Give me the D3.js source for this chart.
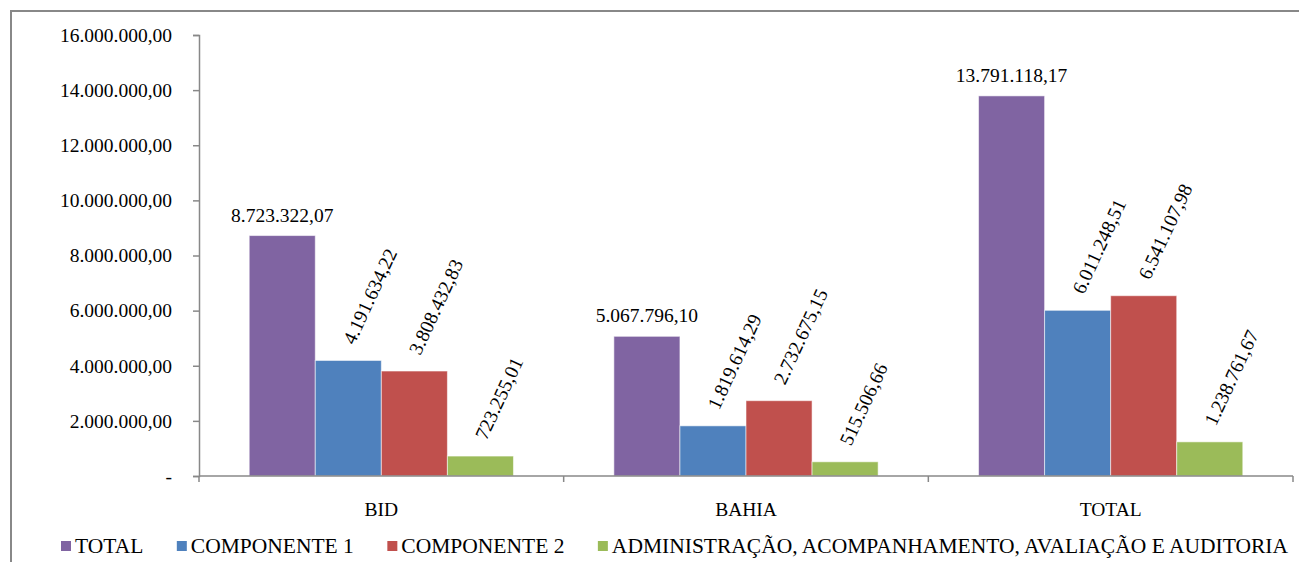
<!DOCTYPE html>
<html>
<head>
<meta charset="utf-8">
<script src="https://cdn.jsdelivr.net/npm/d3@7"></script>
<style>
  body { margin: 0; background: #fff; }
</style>
</head>
<body>
<div id="chart"></div>
<script>
// categories and series
const categories = ["BID", "BAHIA", "TOTAL"];
const seriesNames = ["TOTAL", "COMPONENTE 1", "COMPONENTE 2", "ADMINISTRAÇÃO, ACOMPANHAMENTO, AVALIAÇÃO E AUDITORIA"];
const seriesColors = ["#8064A2", "#4F81BD", "#C0504D", "#9BBB59"];
const totalValues = [8723322.07, 5067796.10, 13791118.17];
const comp1Values = [4191634.22, 1819614.29, 6011248.51];
const comp2Values = [3808432.83, 2732675.15, 6541107.98];
const adminValues = [723255.01, 515506.66, 1238761.67];
const yTicks = [0, 2e6, 4e6, 6e6, 8e6, 10e6, 12e6, 14e6, 16e6];

const seriesValues = [totalValues, comp1Values, comp2Values, adminValues];

const width = 1299, height = 562;
const margin = {top: 35, right: 6, bottom: 86, left: 199};
const serif = "'Liberation Serif'";

const locale = d3.formatLocale({decimal: ",", thousands: ".", grouping: [3], currency: ["", ""]});
const fmt = locale.format(",.2f");

const svg = d3.select("#chart").append("svg")
    .attr("width", width)
    .attr("height", height);

// outer frame (runs off the right and bottom edges like the source)
svg.append("rect")
    .attr("x", 11).attr("y", 11)
    .attr("width", 1400).attr("height", 700)
    .attr("fill", "none")
    .attr("stroke", "#888")
    .attr("stroke-width", 2);

const x = d3.scaleBand()
    .domain(categories)
    .range([margin.left, width - margin.right])
    .padding(0);

const xInner = d3.scaleBand()
    .domain(seriesNames)
    .range([0, x.bandwidth()])
    .paddingInner(0)
    .paddingOuter(0.76);

const y = d3.scaleLinear()
    .domain([0, 16e6])
    .range([height - margin.bottom, margin.top]);

// y axis
const yAxis = svg.append("g")
    .attr("transform", `translate(${margin.left},0)`)
    .call(d3.axisLeft(y).tickValues(yTicks).tickSize(6).tickPadding(21)
        .tickFormat(d => d === 0 ? "-" : fmt(d)));
yAxis.select(".domain").attr("stroke", "#888").attr("stroke-width", 1.5);
yAxis.selectAll(".tick line").attr("stroke", "#888").attr("stroke-width", 1.5);
yAxis.selectAll(".tick text")
    .style("font-family", serif)
    .style("font-size", "19.5px")
    .attr("fill", "#000");

// bars
const groups = svg.selectAll(".cat")
    .data(categories)
    .join("g")
    .attr("class", "cat")
    .attr("transform", d => `translate(${x(d)},0)`);

groups.each(function(cat, ci) {
    const g = d3.select(this);
    seriesNames.forEach((s, si) => {
        const v = seriesValues[si][ci];
        const bx = xInner(s);
        g.append("rect")
            .attr("x", bx)
            .attr("y", y(v))
            .attr("width", xInner.bandwidth())
            .attr("height", y(0) - y(v))
            .attr("fill", seriesColors[si])
            .attr("stroke", "#fff")
            .attr("stroke-opacity", 0.55)
            .attr("stroke-width", 1);

        const cx = bx + xInner.bandwidth() / 2;
        if (si === 0) {
            // first series gets flat labels, the rest are tilted
            g.append("text")
                .attr("x", cx)
                .attr("y", y(v) - 14)
                .attr("text-anchor", "middle")
                .style("font-family", serif)
                .style("font-size", "19.5px")
                .text(fmt(v));
        } else {
            g.append("text")
                .attr("transform", `translate(${cx + 6},${y(v) - 15}) rotate(-65)`)
                .attr("text-anchor", "start")
                .style("font-family", serif)
                .style("font-size", "19.5px")
                .text(fmt(v));
        }
    });
});

// x axis
const xAxisG = svg.append("g")
    .attr("transform", `translate(0,${y(0)})`);
xAxisG.append("line")
    .attr("x1", margin.left).attr("x2", width - margin.right)
    .attr("stroke", "#888").attr("stroke-width", 1.5);
const bounds = categories.map(c => x(c)).concat([x(categories[categories.length - 1]) + x.bandwidth()]);
xAxisG.selectAll(".xtick")
    .data(bounds)
    .join("line")
    .attr("x1", d => d).attr("x2", d => d)
    .attr("y1", 0).attr("y2", 6)
    .attr("stroke", "#888").attr("stroke-width", 1.5);
xAxisG.selectAll(".xlabel")
    .data(categories)
    .join("text")
    .attr("x", d => x(d) + x.bandwidth() / 2)
    .attr("y", 40)
    .attr("text-anchor", "middle")
    .style("font-family", serif)
    .style("font-size", "19.5px")
    .text(d => d);

// legend, spread from the left edge of the frame to its right side
const legendLeft = 61, legendRight = 1288, swatchGap = 14;
const legend = svg.append("g").attr("transform", `translate(${legendLeft},553)`);
const items = seriesNames.map((s, i) => {
    const item = legend.append("g");
    item.append("rect")
        .attr("x", 0).attr("y", -12)
        .attr("width", 10).attr("height", 10)
        .attr("fill", seriesColors[i]);
    const t = item.append("text")
        .attr("x", swatchGap)
        .style("font-family", serif)
        .style("font-size", "21.5px")
        .text(s);
    return {item, w: swatchGap + t.node().getComputedTextLength()};
});
const used = d3.sum(items, d => d.w);
const gap = (legendRight - legendLeft - used) / (items.length - 1);
let lx = 0;
items.forEach(d => {
    d.item.attr("transform", `translate(${lx},0)`);
    lx += d.w + gap;
});
</script>
</body>
</html>
